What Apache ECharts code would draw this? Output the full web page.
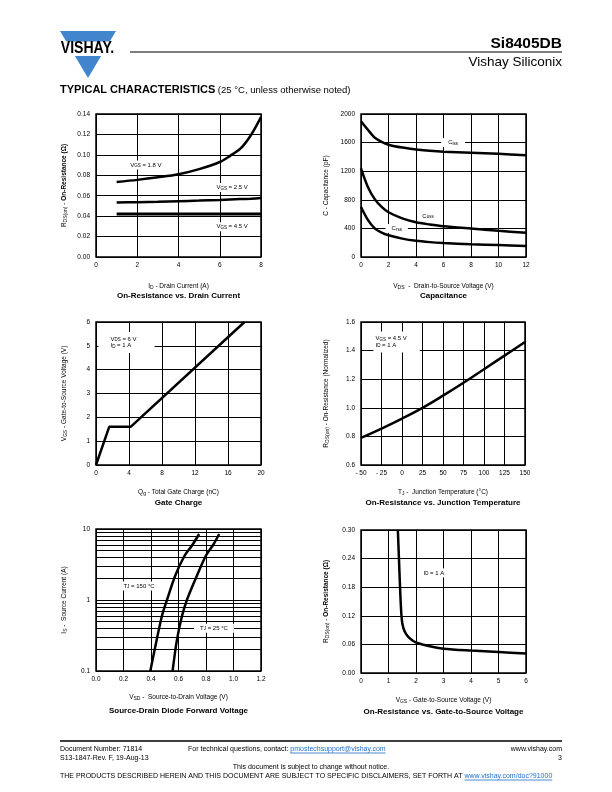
<!DOCTYPE html>
<html><head><meta charset="utf-8">
<script src="https://cdn.jsdelivr.net/npm/echarts@6/dist/echarts.min.js"></script>
<style>html,body{margin:0;padding:0;background:#fff}#c{width:612px;height:792px}</style>
</head><body><div id="c"></div>
<script>
// ---------- data ----------
// 1. On-Resistance vs. Drain Current
const idX = [1, 2, 3, 4, 5, 6, 6.5, 7, 7.5, 8];
const rdsVgs18 = [0.0735, 0.0755, 0.078, 0.081, 0.086, 0.093, 0.099, 0.106, 0.119, 0.137];
const rdsVgs25 = [0.0533, 0.0537, 0.054, 0.0546, 0.0552, 0.0559, 0.0563, 0.0567, 0.0571, 0.0577];
const rdsVgs45 = [0.0420, 0.0420, 0.0420, 0.0420, 0.0420, 0.0420, 0.0420, 0.0421, 0.0421, 0.0421];
// 2. Capacitance
const vdsX = [0, 0.5, 1, 1.5, 2, 3, 4, 5, 6, 8, 10, 12];
const ciss = [1900, 1780, 1670, 1610, 1570, 1530, 1505, 1485, 1472, 1458, 1444, 1422];
const coss = [1240, 980, 810, 700, 626, 540, 486, 455, 430, 397, 366, 338];
const crss = [700, 520, 400, 340, 304, 257, 226, 208, 196, 178, 167, 155];
// 3. Gate Charge
const qgX = [0, 1.6, 4.2, 18];
const vgsQ = [0, 1.6, 1.6, 6];
// 4. On-Resistance vs. Junction Temperature
const tjX = [-50, -25, 0, 25, 50, 75, 100, 125, 150];
const rdsNorm = [0.79, 0.855, 0.925, 1.0, 1.085, 1.175, 1.27, 1.365, 1.46];
// 5. Source-Drain Diode Forward Voltage
const vsd150 = [0.395, 0.431, 0.479, 0.516, 0.576, 0.644, 0.697, 0.75];
const is150 = [0.1, 0.22, 0.59, 1.0, 2.2, 4.2, 5.8, 8.5];
const vsd25 = [0.557, 0.588, 0.625, 0.661, 0.734, 0.799, 0.855, 0.896];
const is25 = [0.1, 0.27, 0.59, 1.0, 2.2, 4.2, 6.1, 8.5];
const isMinorLines = [0.2, 0.3, 0.4, 0.5, 0.6, 0.7, 0.8, 0.9, 2, 3, 4, 5, 6, 7, 8, 9];
// 6. On-Resistance vs. Gate-to-Source Voltage
const vgsX = [1.34, 1.38, 1.42, 1.46, 1.50, 1.58, 1.70, 1.85, 2.0, 2.5, 3.0, 4.0, 5.0, 6.0];
const rdsVgs = [0.30, 0.24, 0.18, 0.13, 0.105, 0.088, 0.077, 0.069, 0.064, 0.056, 0.051, 0.047, 0.044, 0.041];

// ---------- helpers ----------
const FONT = '"Liberation Sans", Arial, Helvetica, sans-serif';
const zip = (xs, ys) => xs.map((x, i) => [x, ys[i]]);
const NAME_RICH = {
  s: {fontSize: 5, lineHeight: 3, verticalAlign: 'bottom', fontFamily: FONT, color: '#000'},
  b: {fontSize: 6.5, fontWeight: 'bold', fontFamily: FONT, color: '#000'}
};
const NOTE_RICH = {
  s: {fontSize: 4.5, lineHeight: 2.5, verticalAlign: 'bottom', fontFamily: FONT, color: '#000'}
};

const gridBoxes = [
  {left: 96, top: 114, width: 165, height: 143},
  {left: 361, top: 114, width: 165, height: 143},
  {left: 96, top: 322, width: 165, height: 143},
  {left: 361, top: 322, width: 164, height: 143},
  {left: 96, top: 529, width: 165, height: 142},
  {left: 361, top: 530, width: 165, height: 143}
];
const grids = gridBoxes.map(g => Object.assign({show: true, borderColor: '#000', borderWidth: 1.5, backgroundColor: 'transparent', containLabel: false}, g));

function axis(dir, gi, o) {
  const a = {
    type: o.type || 'value', gridIndex: gi,
    min: o.min, max: o.max,
    axisLine: {show: false}, axisTick: {show: false},
    splitLine: {show: true, lineStyle: {color: '#000', width: 1}},
    axisLabel: {color: '#000', fontSize: 6.5, fontFamily: FONT, margin: o.margin || 6,
      formatter: o.fmt || (v => String(v)), showMinLabel: true, showMaxLabel: true},
    name: o.name, nameLocation: 'middle', nameGap: o.gap,
    nameTextStyle: {color: '#000', fontSize: 6.5, fontFamily: FONT, lineHeight: 8, rich: NAME_RICH}
  };
  if (o.interval !== undefined) a.interval = o.interval;
  if (o.type === 'log') a.logBase = 10;
  if (dir === 'y') a.nameRotate = 90;
  return a;
}

function note(coord, text, o) {
  o = o || {};
  return {
    coord, symbol: 'rect', symbolSize: 1, itemStyle: {color: 'rgba(0,0,0,0)'},
    label: {show: true, position: o.position || 'inside', distance: 0, formatter: text,
      color: '#000', fontSize: 6, fontFamily: FONT, lineHeight: o.lineHeight || 7,
      backgroundColor: '#fff', padding: o.padding || [1, 2], align: o.align, rich: NOTE_RICH}
  };
}

function curve(gi, data, width, smooth, notes) {
  const s = {
    type: 'line', xAxisIndex: gi, yAxisIndex: gi, data, symbol: 'none', showSymbol: false,
    smooth: smooth, lineStyle: {color: '#000', width: width},
    silent: true, animation: false, z: 3
  };
  if (notes) s.markPoint = {silent: true, animation: false, data: notes};
  return s;
}

const f2 = v => v.toFixed(2);

const xAxes = [
  axis('x', 0, {min: 0, max: 8, interval: 2, name: 'I{s|D} - Drain Current (A)', gap: 25, margin: 5}),
  axis('x', 1, {min: 0, max: 12, interval: 2, name: 'V{s|DS}  -  Drain-to-Source Voltage (V)', gap: 25, margin: 5}),
  axis('x', 2, {min: 0, max: 20, interval: 4, name: 'Q{s|g} - Total Gate Charge (nC)', gap: 23, margin: 5}),
  axis('x', 3, {min: -50, max: 150, interval: 25, name: 'T{s|J} -  Junction Temperature (°C)', gap: 23, margin: 5,
    fmt: v => v < 0 ? '- ' + Math.abs(v) : String(v)}),
  axis('x', 4, {min: 0, max: 1.2, interval: 0.2, name: 'V{s|SD} -  Source-to-Drain Voltage (V)', gap: 22, margin: 5,
    fmt: v => v.toFixed(1)}),
  axis('x', 5, {min: 0, max: 6, interval: 1, name: 'V{s|GS} - Gate-to-Source Voltage (V)', gap: 23, margin: 5})
];
const yAxes = [
  axis('y', 0, {min: 0, max: 0.14, interval: 0.02, fmt: f2, name: 'R{s|DS(on)} - {b|On-Resistance (Ω)}', gap: 28}),
  axis('y', 1, {min: 0, max: 2000, interval: 400, name: 'C - Capacitance (pF)', gap: 31}),
  axis('y', 2, {min: 0, max: 6, interval: 1, name: 'V{s|GS} - Gate-to-Source Voltage (V)', gap: 28}),
  axis('y', 3, {min: 0.6, max: 1.6, interval: 0.2, fmt: v => v.toFixed(1), name: 'R{s|DS(on)} - On-Resistance (Normalized)', gap: 31}),
  axis('y', 4, {type: 'log', min: 0.1, max: 10, fmt: v => String(Math.round(v * 10) / 10), name: 'I{s|S} -  Source Current (A)', gap: 28}),
  axis('y', 5, {min: 0, max: 0.30, interval: 0.06, fmt: f2, name: 'R{s|DS(on)} - {b|On-Resistance (Ω)}', gap: 31})
];

const series = [
  curve(0, zip(idX, rdsVgs18), 2.5, 0.3, [
    note([2.42, 0.090], 'V{s|GS} = 1.8 V'),
    note([6.6, 0.068], 'V{s|GS} = 2.5 V'),
    note([6.6, 0.0297], 'V{s|GS} = 4.5 V')
  ]),
  curve(0, zip(idX, rdsVgs25), 2.5, 0.2),
  curve(0, zip(idX, rdsVgs45), 3, false),

  curve(1, zip(vdsX, ciss), 2.5, 0.3, [
    note([6.7, 1600], 'C{s|iss}', {padding: [1, 7]}),
    note([4.87, 573], 'C{s|oss}'),
    note([2.6, 400], 'C{s|rss}', {padding: [1, 6]})
  ]),
  curve(1, zip(vdsX, coss), 2.5, 0.3),
  curve(1, zip(vdsX, crss), 2.5, 0.3),

  curve(2, zip(qgX, vgsQ), 2.5, false, [
    note([0.24, 5.14], 'V{s|DS} = 6 V\nI{s|D} = 1 A', {position: 'right', align: 'left', padding: [4, 18, 4, 12], lineHeight: 6.5})
  ]),

  curve(3, zip(tjX, rdsNorm), 2.5, 0.4, [
    note([-35.4, 1.46], 'V{s|GS} = 4.5 V\nI{s|D} = 1 A', {position: 'right', align: 'left', padding: [4, 13, 4, 2], lineHeight: 6.5})
  ]),

  {type: 'line', xAxisIndex: 4, yAxisIndex: 4, data: [], symbol: 'none', silent: true, animation: false, z: 1,
    markLine: {silent: true, symbol: 'none', animation: false, label: {show: false},
      lineStyle: {color: '#000', width: 1, type: 'solid'},
      emphasis: {disabled: true},
      data: isMinorLines.map(v => ({yAxis: v}))}},
  curve(4, zip(vsd150, is150), 2.5, 0.3, [
    note([0.313, 1.57], 'T{s|J} = 150 °C'),
    note([0.858, 0.4], 'T{s|J} = 25 °C', {padding: [1, 6]})
  ]),
  curve(4, zip(vsd25, is25), 2.5, 0.3),

  curve(5, zip(vgsX, rdsVgs), 2.5, 0.3, [
    note([2.65, 0.21], 'I{s|D} = 1 A')
  ])
];

// ---------- page furniture ----------
const cv = document.createElement('canvas').getContext('2d');
function tw(txt, size, weight) {
  cv.font = (weight || 'normal') + ' ' + size + 'px "Liberation Sans"';
  return cv.measureText(txt).width;
}
function T(x, y, text, size, o) {
  o = o || {};
  return {type: 'text', x, y, silent: true, z: 10,
    scaleX: o.scaleX || 1, originX: 0, originY: 0,
    style: {text, fontSize: size, fontFamily: FONT, fontWeight: o.weight || 'normal',
      fill: o.color || '#000', align: o.align || 'left', verticalAlign: 'middle',
      textAlign: o.align || 'left', textVerticalAlign: 'middle'}};
}
function L(x1, y1, x2, y2, w, c) {
  return {type: 'line', silent: true, z: 10, shape: {x1, y1, x2, y2}, style: {stroke: c || '#000', lineWidth: w}};
}

const FS = 7;
const blue = '#1f6fc5';
const row1Prefix = 'For technical questions, contact: ';
const link1 = 'pmostechsupport@vishay.com';
const row4Prefix = 'THE PRODUCTS DESCRIBED HEREIN AND THIS DOCUMENT ARE SUBJECT TO SPECIFIC DISCLAIMERS, SET FORTH AT ';
const link2 = 'www.vishay.com/doc?91000';
const p1w = tw(row1Prefix, FS), l1w = tw(link1, FS);
const p4w = tw(row4Prefix, FS), l4w = tw(link2, FS);
const r4x = 60;

const titles = [
  ['On-Resistance vs. Drain Current', 0, 296],
  ['Capacitance', 1, 296],
  ['Gate Charge', 2, 503],
  ['On-Resistance vs. Junction Temperature', 3, 503],
  ['Source-Drain Diode Forward Voltage', 4, 711],
  ['On-Resistance vs. Gate-to-Source Voltage', 5, 712]
];

const graphic = [
  // logo
  {type: 'polygon', silent: true, shape: {points: [[60, 31], [116, 31], [88, 78]]}, style: {fill: '#4285cc'}},
  {type: 'rect', silent: true, shape: {x: 55, y: 41.5, width: 66, height: 14.5}, style: {fill: '#fff'}},
  T(87.5, 48.5, 'VISHAY.', 16, {weight: 'bold', align: 'center', scaleX: 0.88}),
  L(130, 52, 562, 52, 1.2),
  T(562, 44, 'Si8405DB', 15.5, {weight: 'bold', align: 'right'}),
  T(562, 62, 'Vishay Siliconix', 13.5, {align: 'right'}),
  {type: 'text', x: 60, y: 90, silent: true,
    style: {text: '{b|TYPICAL CHARACTERISTICS} (25 °C, unless otherwise noted)', fontSize: 9.5, fontFamily: FONT,
      fill: '#000', verticalAlign: 'middle', textVerticalAlign: 'middle',
      rich: {b: {fontSize: 11, fontWeight: 'bold', fontFamily: FONT}}}},
  // footer
  L(60, 741, 562, 741, 1.5),
  T(60, 749, 'Document Number: 71814', FS),
  T(60, 758, 'S13-1847-Rev. F, 19-Aug-13', FS),
  T(188, 749, row1Prefix, FS),
  T(188 + p1w, 749, link1, FS, {color: blue}),
  L(188 + p1w, 753, 188 + p1w + l1w, 753, 0.8, blue),
  T(562, 749, 'www.vishay.com', FS, {align: 'right'}),
  T(562, 758, '3', FS, {align: 'right'}),
  T(311, 767, 'This document is subject to change without notice.', FS, {align: 'center'}),
  T(r4x, 776, row4Prefix, FS),
  T(r4x + p4w, 776, link2, FS, {color: blue}),
  L(r4x + p4w, 780, r4x + p4w + l4w, 780, 0.8, blue)
].concat(titles.map(t => {
  const g = gridBoxes[t[1]];
  return T(g.left + g.width / 2, t[2], t[0], 8, {weight: 'bold', align: 'center'});
}));

const chart = echarts.init(document.getElementById('c'), null, {renderer: 'canvas'});
chart.setOption({
  animation: false,
  backgroundColor: '#fff',
  textStyle: {fontFamily: FONT},
  grid: grids,
  xAxis: xAxes,
  yAxis: yAxes,
  series: series,
  graphic: graphic
});
</script></body></html>
